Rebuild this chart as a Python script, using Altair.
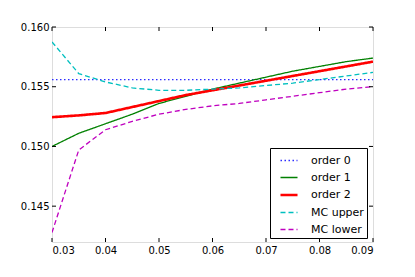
import altair as alt
import pandas as pd

x_vals = [0.03, 0.035, 0.04, 0.045, 0.05, 0.055, 0.06, 0.065, 0.07, 0.075, 0.08, 0.085, 0.09]
order0 = [0.1556] * 13
order1 = [0.1500, 0.1511, 0.1519, 0.1527, 0.1536, 0.1542, 0.1548, 0.1553, 0.1558, 0.1563, 0.1567, 0.1571, 0.1574]
order2 = [0.15245, 0.1526, 0.1528, 0.1533, 0.1538, 0.1543, 0.1547, 0.1551, 0.1555, 0.1559, 0.1563, 0.1567, 0.1571]
mc_upper = [0.15875, 0.1561, 0.1554, 0.1549, 0.1547, 0.1547, 0.1548, 0.1549, 0.1551, 0.1553, 0.1556, 0.1559, 0.1562]
mc_lower = [0.1428, 0.1497, 0.1514, 0.1521, 0.1527, 0.1531, 0.1534, 0.1536, 0.1539, 0.1542, 0.1545, 0.1548, 0.1550]

names = ["order 0", "order 1", "order 2", "MC upper", "MC lower"]
series = [order0, order1, order2, mc_upper, mc_lower]
colors = ["#2b2bff", "#008000", "#ff0000", "#00bfbf", "#bf00bf"]
dashes = [[1.5, 2.5], [1, 0], [1, 0], [5, 3], [5, 3]]
widths = [1.3, 1.3, 2.6, 1.3, 1.3]

x_ticks = [0.03, 0.04, 0.05, 0.06, 0.07, 0.08, 0.09]
y_ticks = [0.145, 0.150, 0.155, 0.160]

rows = []
for n, s in zip(names, series):
    for xv, yv in zip(x_vals, s):
        rows.append({"x": xv, "y": yv, "series": n})
df = pd.DataFrame(rows)
xt = pd.DataFrame({"x": x_ticks})
yt = pd.DataFrame({"y": y_ticks})

W, H = 321, 215
FONT = "DejaVu Sans"
TL = 4

xscale = alt.Scale(domain=[0.03, 0.09], nice=False, zero=False)
yscale = alt.Scale(domain=[0.142, 0.160], nice=False, zero=False)

x_axis = alt.Axis(title=None, values=x_ticks, format=".2f", ticks=False, domain=False,
                  grid=False, labelFont=FONT, labelFontSize=10, labelColor="black", labelPadding=3)
y_axis = alt.Axis(title=None, values=y_ticks, format=".3f", ticks=False, domain=False,
                  grid=False, labelFont=FONT, labelFontSize=10, labelColor="black", labelPadding=3)

legend = alt.Legend(title=None, orient="none", legendX=218, legendY=121,
                    symbolType="stroke", symbolSize=290, symbolOffset=6,
                    labelFont=FONT, labelFontSize=11, labelColor="black",
                    strokeColor="black", fillColor="white", padding=3,
                    cornerRadius=0, labelOffset=12, rowPadding=2)

lines = alt.Chart(df).mark_line(clip=True).encode(
    x=alt.X("x:Q", scale=xscale, axis=x_axis),
    y=alt.Y("y:Q", scale=yscale, axis=y_axis),
    color=alt.Color("series:N", scale=alt.Scale(domain=names, range=colors), legend=legend),
    strokeDash=alt.StrokeDash("series:N", scale=alt.Scale(domain=names, range=dashes), legend=legend),
    strokeWidth=alt.StrokeWidth("series:N", scale=alt.Scale(type="ordinal", domain=names, range=widths), legend=legend),
    detail="series:N",
)

xtick_top = alt.Chart(xt).mark_rule(color="black", strokeWidth=1).encode(
    x=alt.X("x:Q", scale=xscale, axis=x_axis), y=alt.value(0), y2=alt.value(TL))
xtick_bot = alt.Chart(xt).mark_rule(color="black", strokeWidth=1).encode(
    x=alt.X("x:Q", scale=xscale, axis=x_axis), y=alt.value(H), y2=alt.value(H - TL))
ytick_left = alt.Chart(yt).mark_rule(color="black", strokeWidth=1).encode(
    y=alt.Y("y:Q", scale=yscale, axis=y_axis), x=alt.value(0), x2=alt.value(TL))
ytick_right = alt.Chart(yt).mark_rule(color="black", strokeWidth=1).encode(
    y=alt.Y("y:Q", scale=yscale, axis=y_axis), x=alt.value(W), x2=alt.value(W - TL))

chart = alt.layer(lines, xtick_top, xtick_bot, ytick_left, ytick_right).properties(
    width=W, height=H,
    autosize=alt.AutoSizeParams(type="none"),
    padding={"left": 44, "top": 19, "right": 20, "bottom": 20},
).configure_view(stroke="black", strokeWidth=1.5).configure(background="white")

chart.save("out.html", embed_options={"renderer": "svg", "actions": False})
